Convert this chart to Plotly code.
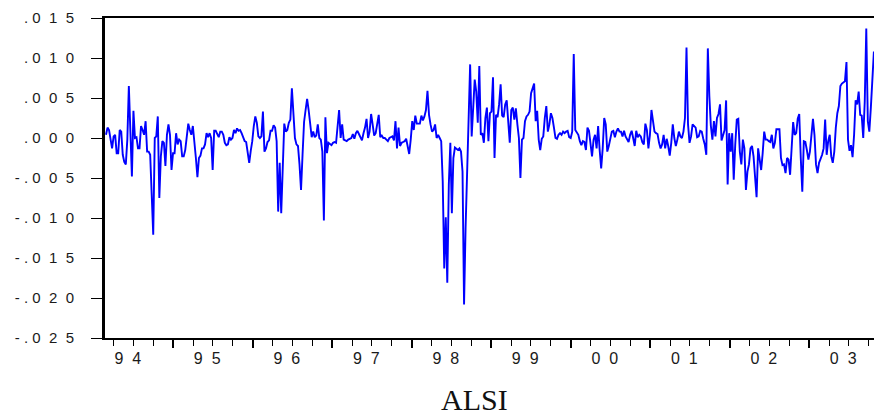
import pandas as pd
import plotly.graph_objects as go

# Weekly ALSI returns (segments in time order)
seg1 = [0.0004, 0.0013, 0.0010, -0.0001, -0.0013, 0.0002, 0.0004, -0.0019, -0.0019, 0.0010,
        0.0008, -0.0021, -0.0030, -0.0033, -0.0002, 0.0065, 0.0008, -0.0048, 0.0034, 0.0000,
        0.0001, -0.0013, -0.0013, 0.0015, 0.0010, 0.0004, 0.0021, -0.0017, -0.0017, -0.0021,
        -0.0071, -0.0121, 0.0000, 0.0002, 0.0027, -0.0075, -0.0023, -0.0004, -0.0006, -0.0035,
        0.0004, 0.0017, 0.0004, -0.0040, -0.0019, -0.0019, 0.0006, -0.0008, -0.0002, -0.0004,
        -0.0023, -0.0023, -0.0015, 0.0004, 0.0018, 0.0010, 0.0004, 0.0015, -0.0002, -0.0025,
        -0.0049, -0.0025, -0.0022, -0.0013, -0.0013, -0.0008, 0.0006, 0.0001, 0.0006, 0.0000,
        -0.0040, 0.0009, 0.0009, 0.0004, 0.0001, 0.0008, 0.0008, 0.0004, -0.0006, -0.0009,
        -0.0008, 0.0001, -0.0002, 0.0000, 0.0010, 0.0006, 0.0012, 0.0009, 0.0010, 0.0006,
        0.0000, -0.0004, -0.0005, -0.0019, -0.0031, -0.0016, -0.0004, 0.0015, 0.0027, 0.0019,
        0.0002]
seg2 = [0.0000, 0.0002, 0.0033, -0.0017, -0.0013, -0.0005, -0.0003, 0.0009, 0.0009, 0.0016,
        0.0013, -0.0004, -0.0092, -0.0031, -0.0094, -0.0037, 0.0018, 0.0008, 0.0010, 0.0019,
        0.0023, 0.0062, 0.0035, 0.0000, -0.0008, -0.0010, -0.0033, -0.0065, -0.0021, 0.0020,
        0.0035, 0.0049, 0.0035, 0.0019, 0.0001, 0.0008, 0.0001, 0.0003, 0.0017, 0.0000,
        -0.0002, -0.0017, -0.0103, 0.0026, -0.0019, -0.0006, -0.0008, -0.0009, -0.0006, -0.0005,
        -0.0006, 0.0017, 0.0035, 0.0000, 0.0017, -0.0002, -0.0003, -0.0004, -0.0002, -0.0001,
        0.0000, 0.0005, -0.0001, 0.0006, 0.0009, 0.0005, 0.0001, -0.0003, 0.0006, 0.0013,
        0.0024, 0.0000, 0.0008, 0.0030, 0.0017, 0.0003, 0.0006, 0.0017, 0.0029, 0.0001,
        0.0003, 0.0000, 0.0000, -0.0002, -0.0004, 0.0000, 0.0001, 0.0002, -0.0003, 0.0021,
        -0.0013, 0.0013, -0.0010, -0.0006, -0.0005, -0.0004, -0.0001, -0.0009, -0.0020, -0.0002,
        0.0021, 0.0010]
seg3 = [0.0028, 0.0018, 0.0018, 0.0018, 0.0028, 0.0022, 0.0027, 0.0035, 0.0059, 0.0029,
        0.0017, 0.0008, 0.0010, 0.0017, 0.0000, 0.0004, 0.0000, -0.0004, -0.0054, -0.0163,
        -0.0099, -0.0181, -0.0058, -0.0006, -0.0094, -0.0025, -0.0012, -0.0013, -0.0015, -0.0013,
        -0.0017, -0.0042, -0.0208, -0.0113, -0.0033, 0.0038, 0.0092, 0.0002, 0.0046, 0.0073,
        0.0058, 0.0019, 0.0090, 0.0004, 0.0006, -0.0006, 0.0025, 0.0038, -0.0004, 0.0031,
        0.0033, 0.0076, -0.0025, 0.0029, 0.0026, 0.0042, 0.0067, 0.0028, 0.0026, 0.0042,
        0.0047, 0.0017, -0.0006, 0.0035, 0.0038, 0.0023, 0.0037, 0.0017, 0.0000, -0.0050,
        -0.0002, 0.0000, 0.0021, 0.0027, 0.0029, 0.0033, 0.0056, 0.0062, 0.0068, 0.0021,
        0.0034, -0.0002, -0.0015, -0.0001, 0.0002, 0.0025, 0.0040, 0.0008, 0.0017, 0.0031,
        0.0025, 0.0013, 0.0000, -0.0001, 0.0004, 0.0006, 0.0004, 0.0008, 0.0006, 0.0008,
        0.0009, 0.0001]
seg4 = [0.0000, 0.0008, 0.0105, 0.0010, 0.0006, 0.0004, -0.0004, -0.0009, -0.0004, -0.0005,
        -0.0015, 0.0013, 0.0009, -0.0004, -0.0023, -0.0002, 0.0004, -0.0013, 0.0015, -0.0015,
        -0.0038, -0.0013, 0.0025, 0.0017, -0.0017, -0.0010, 0.0002, 0.0008, 0.0009, 0.0001,
        0.0008, 0.0012, 0.0008, 0.0008, 0.0002, 0.0009, 0.0002, -0.0001, -0.0005, 0.0004,
        0.0009, 0.0000, -0.0010, 0.0009, 0.0001, 0.0004, 0.0002, -0.0005, -0.0008, 0.0018,
        0.0010, -0.0013, 0.0004, 0.0035, 0.0018, 0.0008, 0.0006, 0.0005, -0.0006, -0.0013,
        -0.0008, 0.0004, -0.0013, -0.0001, -0.0010, -0.0022, -0.0006, 0.0017, 0.0000, -0.0010,
        -0.0002, 0.0008, 0.0002, 0.0000, 0.0008, 0.0025, 0.0113, 0.0017, -0.0006, 0.0002,
        0.0017, 0.0015, 0.0013, 0.0001, 0.0002, 0.0009, 0.0008, -0.0001, -0.0008, -0.0021,
        0.0112, 0.0052, 0.0015, -0.0002, 0.0021, 0.0002, 0.0025, 0.0030, 0.0042, -0.0003,
        0.0004, 0.0010]
seg5 = [0.0047, -0.0058, 0.0006, -0.0017, 0.0006, -0.0052, -0.0008, 0.0023, 0.0024, -0.0017,
        -0.0033, -0.0002, -0.0013, -0.0065, -0.0042, -0.0033, -0.0013, -0.0010, -0.0023, -0.0054,
        -0.0074, -0.0013, -0.0029, -0.0040, -0.0019, 0.0008, -0.0002, -0.0002, -0.0004, -0.0005,
        0.0004, -0.0013, -0.0006, 0.0011, 0.0011, 0.0011, -0.0025, -0.0034, -0.0033, -0.0044,
        -0.0025, -0.0027, -0.0046, -0.0004, 0.0020, 0.0004, 0.0006, 0.0024, 0.0030, -0.0025,
        -0.0067, -0.0004, -0.0005, -0.0015, -0.0027, -0.0017, 0.0008, 0.0024, 0.0004, -0.0033,
        -0.0044, -0.0031, -0.0026, -0.0021, -0.0013, 0.0023, -0.0021, -0.0004, 0.0004, -0.0023,
        -0.0031, -0.0017, 0.0013, 0.0031, 0.0040, 0.0065, 0.0068, 0.0069, 0.0071, 0.0095,
        -0.0002, -0.0016, -0.0009, -0.0024, 0.0004, 0.0047, 0.0042, 0.0058, 0.0029, 0.0028,
        0.0000, 0.0046, 0.0137, 0.0021, 0.0008, 0.0038, 0.0079, 0.0108]

values = seg1 + seg2 + seg3 + seg4 + seg5
start_date = "1993-11-26"
dates = pd.date_range(start_date, periods=len(values), freq="7D")

years = list(range(1994, 2004))
year_labels = ["9\u00a0\u00a04", "9\u00a0\u00a05", "9\u00a0\u00a06", "9\u00a0\u00a07", "9\u00a0\u00a08",
               "9\u00a0\u00a09", "0\u00a0\u00a00", "0\u00a0\u00a01", "0\u00a0\u00a02", "0\u00a0\u00a03"]
y_ticks = [0.015, 0.010, 0.005, 0.000, -0.005, -0.010, -0.015, -0.020, -0.025]
y_labels = [".\u00a00\u00a0\u00a01\u00a0\u00a05", ".\u00a00\u00a0\u00a01\u00a0\u00a00",
            ".\u00a00\u00a0\u00a00\u00a0\u00a05", ".\u00a00\u00a0\u00a00\u00a0\u00a00",
            "-\u00a0.\u00a00\u00a0\u00a00\u00a0\u00a05", "-\u00a0.\u00a00\u00a0\u00a01\u00a0\u00a00",
            "-\u00a0.\u00a00\u00a0\u00a01\u00a0\u00a05", "-\u00a0.\u00a00\u00a0\u00a02\u00a0\u00a00",
            "-\u00a0.\u00a00\u00a0\u00a02\u00a0\u00a05"]
title_text = "ALSI"

W, H = 874, 418
L, R, T, B = 105, 0, 18, 80
plot_w = W - L - R
px_per_day = 79.5 / 365.25
t0 = pd.Timestamp(start_date)
x_range = [t0 - pd.Timedelta(days=1.0 / px_per_day), t0 + pd.Timedelta(days=(plot_w - 1) / px_per_day)]

quarter_ticks = [pd.Timestamp(f"{y}-{m:02d}-01") for y in range(1994, 2004) for m in (1, 4, 7, 10)]
major_ticks = [pd.Timestamp(f"{y}-10-01") for y in range(1994, 2003)]
label_pos = [pd.Timestamp(f"{y}-03-06") for y in years]

fig = go.Figure()
fig.add_trace(go.Scatter(x=dates, y=values, mode="lines",
                         line=dict(color="#0000FF", width=1.9), showlegend=False, hoverinfo="skip"))
fig.add_trace(go.Scatter(x=[dates[0]], y=[0], xaxis="x2", mode="markers",
                         marker=dict(opacity=0), showlegend=False, hoverinfo="skip"))

tickfont_x = dict(family="Liberation Sans, Arial, sans-serif", size=16, color="#1a1a1a")
tickfont_y = dict(family="Liberation Sans, Arial, sans-serif", size=15, color="#1a1a1a")

fig.update_layout(
    width=W, height=H, margin=dict(l=L, r=R, t=T, b=B, pad=0),
    paper_bgcolor="white", plot_bgcolor="white",
    xaxis=dict(type="date", range=x_range, showgrid=False, zeroline=False,
               showline=True, linecolor="black", linewidth=2, mirror=True,
               tickmode="array", tickvals=major_ticks, showticklabels=False,
               ticks="outside", ticklen=8, tickwidth=2, tickcolor="black",
               minor=dict(tickmode="array", tickvals=quarter_ticks, ticks="outside",
                          ticklen=6, tickwidth=1.3, tickcolor="black", showgrid=False)),
    xaxis2=dict(type="date", range=x_range, overlaying="x", anchor="y", side="bottom",
                showgrid=False, zeroline=False, showline=False,
                tickmode="array", tickvals=label_pos, ticktext=year_labels,
                ticks="", tickfont=tickfont_x, ticklabelstandoff=9),
    yaxis=dict(range=[-0.025, 0.015], showgrid=False, zeroline=False,
               showline=True, linecolor="black", linewidth=3, mirror=False,
               tickmode="array", tickvals=y_ticks, ticktext=y_labels,
               ticks="outside", ticklen=11, tickwidth=1.3, tickcolor="black",
               tickfont=tickfont_y, ticklabelstandoff=14),
    annotations=[dict(text=title_text, xref="paper", yref="paper",
                      x=(474 - L) / plot_w, y=(H - B - 399) / (H - B - T),
                      xanchor="center", yanchor="middle", showarrow=False,
                      font=dict(family="Liberation Serif, Times New Roman, serif", size=30, color="#111111"))],
)

fig.write_html("out.html")
